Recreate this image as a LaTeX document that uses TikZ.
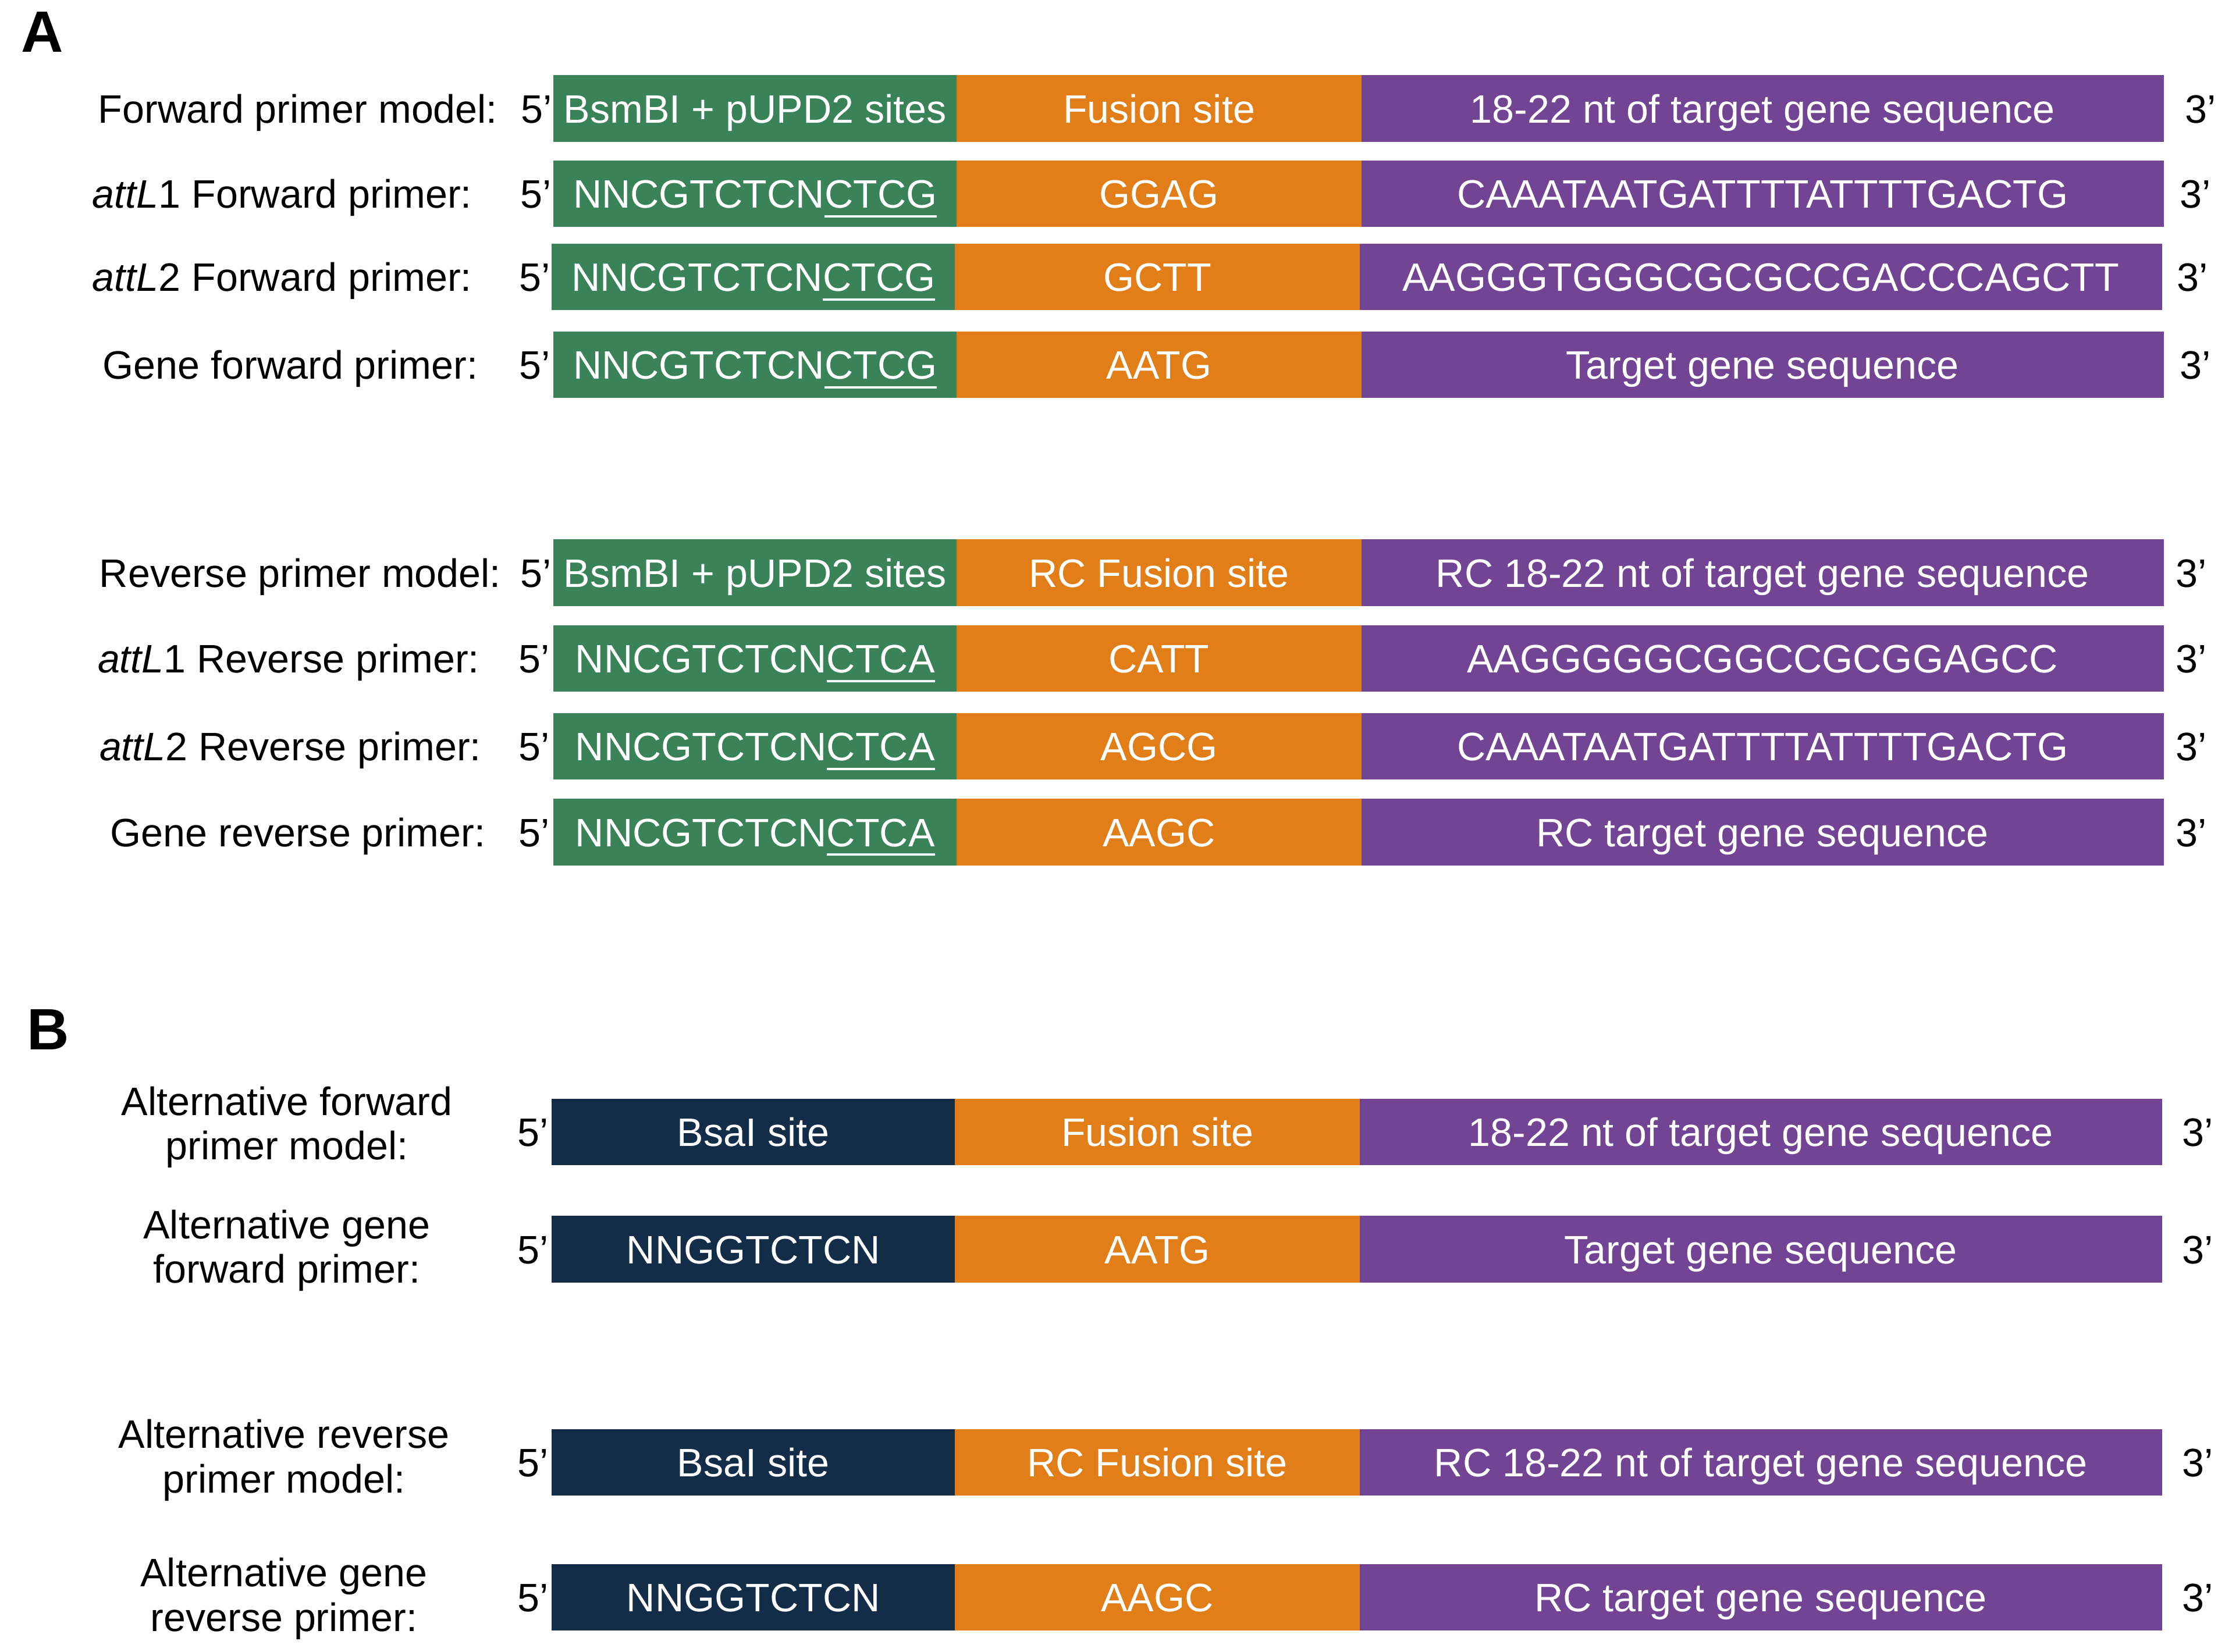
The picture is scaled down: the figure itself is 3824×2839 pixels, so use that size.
\documentclass[tikz,border=0pt]{standalone}
\usepackage{fontspec}
\setmainfont{Liberation Sans}
\usetikzlibrary{positioning}
\definecolor{bsmgreen}{RGB}{58,130,87}
\definecolor{bsanavy}{RGB}{19,44,72}
\definecolor{fusorange}{RGB}{226,126,24}
\definecolor{tgtpurple}{RGB}{113,68,148}
\newcommand\ulsite[1]{\setbox0=\hbox{#1}\rlap{\rule[-4.6pt]{\wd0}{1.15pt}}\box0}
\tikzset{
	seg/.style={minimum height=1.14cm, inner sep=0pt, outer sep=0pt, text=white, text height=14pt, text depth=0pt},
	bsm/.style={seg, fill=bsmgreen, minimum width=6.93cm},
	bsa/.style={seg, fill=bsanavy, minimum width=6.93cm},
	fus/.style={seg, fill=fusorange, minimum width=6.95cm},
	tgt/.style={seg, fill=tgtpurple, minimum width=13.78cm},
	lab/.style={inner sep=0pt, text height=14pt, text depth=0pt},
	labtwo/.style={inner sep=0pt, align=center},
	endlab/.style={inner sep=0pt, text height=14pt, text depth=0pt},
	panel/.style={inner sep=0pt, anchor=base west, font=\fontsize{28.5}{30}\selectfont\bfseries}
}

\begin{document}
\begin{tikzpicture}[x=0.01cm, y=-0.01cm, font=\fontsize{19.4}{21.8}\selectfont]
			%%%%% START %%%%%
			\useasboundingbox (0,0) rectangle (3824,2839);
			
			\node[panel] (pa) at (36,90) {A};
			\node[panel] (pb) at (46,1804) {B};
			
			% forward primers
			\node[bsm, anchor=west] (f1a) at (951,186.5) {BsmBI + pUPD2 sites};
			\node[fus, right=0pt of f1a] (f1b) {Fusion site};
			\node[tgt, right=0pt of f1b] (f1c) {18-22 nt of target gene sequence};
			\node[endlab, left=0.02cm of f1a] (f1five) {5’};
			\node[endlab, right=0.36cm of f1c] (f1three) {3’};
			\node[lab] (f1lab) at (512,186.5) {Forward primer model:};
			
			\node[bsm, anchor=west] (f2a) at (951,333) {NNCGTCTCN\ulsite{CTCG}};
			\node[fus, right=0pt of f2a] (f2b) {GGAG};
			\node[tgt, right=0pt of f2b] (f2c) {CAAATAATGATTTTATTTTGACTG};
			\node[endlab, left=0.03cm of f2a] (f2five) {5’};
			\node[endlab, right=0.27cm of f2c] (f2three) {3’};
			\node[lab] (f2lab) at (485,333) {\textit{attL}1 Forward primer:};
			
			\node[bsm, anchor=west] (f3a) at (948,476) {NNCGTCTCN\ulsite{CTCG}};
			\node[fus, right=0pt of f3a] (f3b) {GCTT};
			\node[tgt, right=0pt of f3b] (f3c) {AAGGGTGGGCGCGCCGACCCAGCTT};
			\node[endlab, left=0.02cm of f3a] (f3five) {5’};
			\node[endlab, right=0.25cm of f3c] (f3three) {3’};
			\node[lab] (f3lab) at (485,476) {\textit{attL}2 Forward primer:};
			
			\node[bsm, anchor=west] (f4a) at (951,627) {NNCGTCTCN\ulsite{CTCG}};
			\node[fus, right=0pt of f4a] (f4b) {AATG};
			\node[tgt, right=0pt of f4b] (f4c) {Target gene sequence};
			\node[endlab, left=0.05cm of f4a] (f4five) {5’};
			\node[endlab, right=0.27cm of f4c] (f4three) {3’};
			\node[lab] (f4lab) at (499,627) {Gene forward primer:};
			
			% reverse primers
			\node[bsm, anchor=west] (r1a) at (951,984.5) {BsmBI + pUPD2 sites};
			\node[fus, right=0pt of r1a] (r1b) {RC Fusion site};
			\node[tgt, right=0pt of r1b] (r1c) {RC 18-22 nt of target gene sequence};
			\node[endlab, left=0.03cm of r1a] (r1five) {5’};
			\node[endlab, right=0.2cm of r1c] (r1three) {3’};
			\node[lab] (r1lab) at (516,984.5) {Reverse primer model:};
			
			\node[bsm, anchor=west] (r2a) at (951,1132) {NNCGTCTCN\ulsite{CTCA}};
			\node[fus, right=0pt of r2a] (r2b) {CATT};
			\node[tgt, right=0pt of r2b] (r2c) {AAGGGGGCGGCCGCGGAGCC};
			\node[endlab, left=0.06cm of r2a] (r2five) {5’};
			\node[endlab, right=0.2cm of r2c] (r2three) {3’};
			\node[lab] (r2lab) at (496,1132) {\textit{attL}1 Reverse primer:};
			
			\node[bsm, anchor=west] (r3a) at (951,1283) {NNCGTCTCN\ulsite{CTCA}};
			\node[fus, right=0pt of r3a] (r3b) {AGCG};
			\node[tgt, right=0pt of r3b] (r3c) {CAAATAATGATTTTATTTTGACTG};
			\node[endlab, left=0.06cm of r3a] (r3five) {5’};
			\node[endlab, right=0.2cm of r3c] (r3three) {3’};
			\node[lab] (r3lab) at (499,1283) {\textit{attL}2 Reverse primer:};
			
			\node[bsm, anchor=west] (r4a) at (951,1430.5) {NNCGTCTCN\ulsite{CTCA}};
			\node[fus, right=0pt of r4a] (r4b) {AAGC};
			\node[tgt, right=0pt of r4b] (r4c) {RC target gene sequence};
			\node[endlab, left=0.06cm of r4a] (r4five) {5’};
			\node[endlab, right=0.2cm of r4c] (r4three) {3’};
			\node[lab] (r4lab) at (512,1430.5) {Gene reverse primer:};
			
			% alternative primers
			\node[bsa, anchor=west] (a1a) at (948,1946) {BsaI site};
			\node[fus, right=0pt of a1a] (a1b) {Fusion site};
			\node[tgt, right=0pt of a1b] (a1c) {18-22 nt of target gene sequence};
			\node[endlab, left=0.05cm of a1a] (a1five) {5’};
			\node[endlab, right=0.34cm of a1c] (a1three) {3’};
			\node[labtwo] (a1lab) at (493,1938) {Alternative forward\\primer model:};
			
			\node[bsa, anchor=west] (a2a) at (948,2147.5) {NNGGTCTCN};
			\node[fus, right=0pt of a2a] (a2b) {AATG};
			\node[tgt, right=0pt of a2b] (a2c) {Target gene sequence};
			\node[endlab, left=0.05cm of a2a] (a2five) {5’};
			\node[endlab, right=0.34cm of a2c] (a2three) {3’};
			\node[labtwo] (a2lab) at (493,2150) {Alternative gene\\forward primer:};
			
			\node[bsa, anchor=west] (a3a) at (948,2514) {BsaI site};
			\node[fus, right=0pt of a3a] (a3b) {RC Fusion site};
			\node[tgt, right=0pt of a3b] (a3c) {RC 18-22 nt of target gene sequence};
			\node[endlab, left=0.05cm of a3a] (a3five) {5’};
			\node[endlab, right=0.34cm of a3c] (a3three) {3’};
			\node[labtwo] (a3lab) at (488,2510) {Alternative reverse\\primer model:};
			
			\node[bsa, anchor=west] (a4a) at (948,2746) {NNGGTCTCN};
			\node[fus, right=0pt of a4a] (a4b) {AAGC};
			\node[tgt, right=0pt of a4b] (a4c) {RC target gene sequence};
			\node[endlab, left=0.05cm of a4a] (a4five) {5’};
			\node[endlab, right=0.34cm of a4c] (a4three) {3’};
			\node[labtwo] (a4lab) at (488,2748) {Alternative gene\\reverse primer:};
			
			%%%%% END %%%%%
\end{tikzpicture}
\end{document}
